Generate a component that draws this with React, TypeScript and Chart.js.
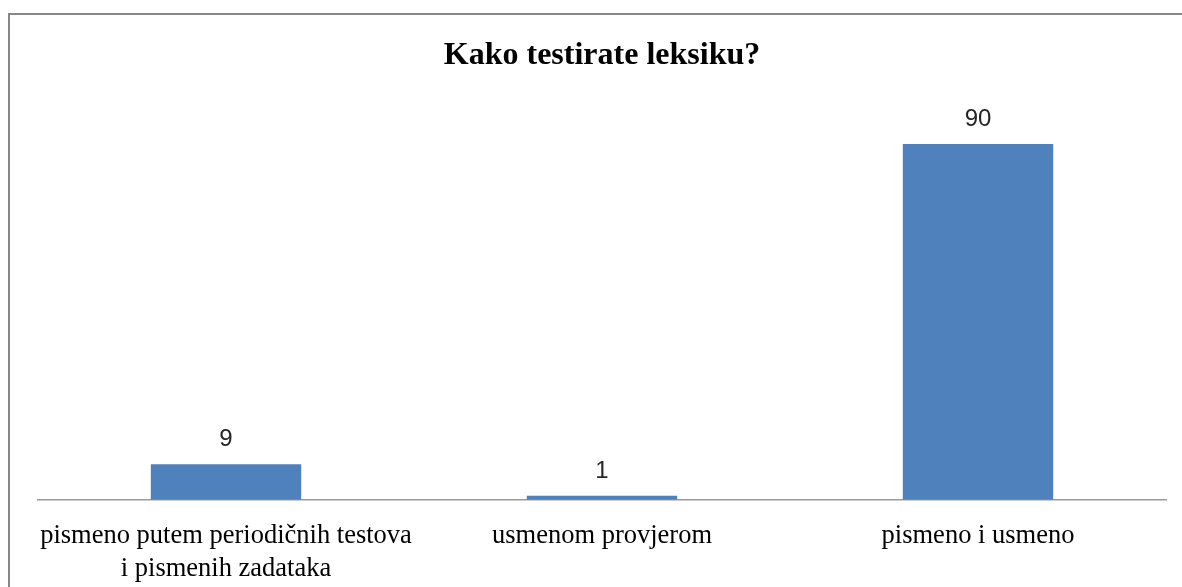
import React, { useEffect, useRef } from "react";
import { Chart, registerables } from "chart.js";

Chart.register(...registerables);

const titleText = "Kako testirate leksiku?";
const categories: (string | string[])[] = [
  ["pismeno putem periodičnih testova", "i pismenih zadataka"],
  "usmenom provjerom",
  "pismeno i usmeno",
];
const values = [9, 1, 90];
const yMax = 100;

const barColor = "#4F81BD";

const dataLabelPlugin = {
  id: "dataLabels",
  afterDatasetsDraw(chart: any) {
    const ctx = chart.ctx;
    ctx.save();
    ctx.font = '24px "Liberation Sans", Arial, sans-serif';
    ctx.fillStyle = "#262626";
    ctx.textAlign = "center";
    ctx.textBaseline = "alphabetic";
    chart.data.datasets.forEach((ds: any, di: number) => {
      const meta = chart.getDatasetMeta(di);
      meta.data.forEach((bar: any, i: number) => {
        ctx.fillText(String(ds.data[i]), bar.x, bar.y - 18);
      });
    });
    ctx.restore();
  },
};

export default function App() {
  const ref = useRef<HTMLCanvasElement>(null);
  useEffect(() => {
    if (!ref.current) return;
    const chart = new Chart(ref.current, {
      type: "bar",
      data: {
        labels: categories,
        datasets: [
          {
            data: values,
            backgroundColor: barColor,
            borderWidth: 0,
            barPercentage: 0.4,
            categoryPercentage: 1,
          },
        ],
      },
      options: {
        animation: false,
        responsive: false,
        maintainAspectRatio: false,
        layout: { padding: { left: 30, right: 16, top: 0, bottom: 0 } },
        plugins: {
          legend: { display: false },
          tooltip: { enabled: false },
          title: {
            display: true,
            text: titleText,
            color: "#000",
            font: { family: '"Liberation Serif", "Times New Roman", serif', size: 32, weight: "bold" },
            padding: { top: 29, bottom: 29 },
          },
        },
        scales: {
          y: { display: false, min: 0, max: yMax },
          x: {
            grid: { display: false, drawTicks: false },
            border: { display: true, color: "#9a9a9a", width: 1.5 },
            ticks: {
              color: "#000",
              padding: 20,
              maxRotation: 0,
              autoSkip: false,
              font: { family: '"Liberation Serif", "Times New Roman", serif', size: 26.5, lineHeight: 1.25 },
            },
          },
        },
      },
      plugins: [dataLabelPlugin],
    });
    return () => chart.destroy();
  }, []);

  return (
    <div style={{ position: "fixed", left: 8, top: 8, width: 1174, height: 579, overflow: "hidden", background: "#fff" }}>
      <div
        style={{
          position: "absolute",
          left: 0,
          top: 5,
          width: 1200,
          height: 620,
          border: "2px solid #878787",
          boxSizing: "border-box",
        }}
      />
      <canvas
        ref={ref}
        width={1174}
        height={598}
        style={{ position: "absolute", left: 0, top: 0, width: 1174, height: 598 }}
      />
    </div>
  );
}
